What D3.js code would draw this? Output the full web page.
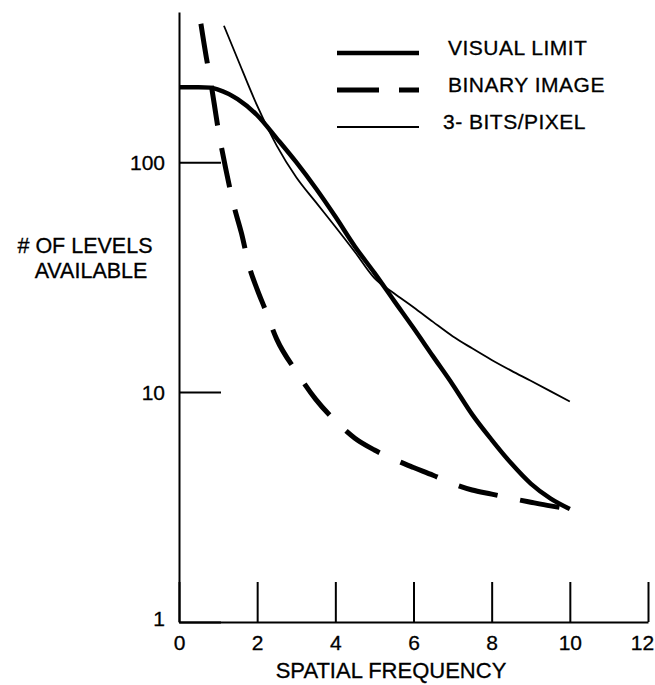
<!DOCTYPE html>
<html>
<head>
<meta charset="utf-8">
<script src="https://cdn.jsdelivr.net/npm/d3@7"></script>
<style>
  body { margin: 0; background: #fff; }
  text { font-family: "Liberation Sans", Arial, sans-serif; fill: #000; stroke: #000; stroke-width: 0.3px; }
</style>
</head>
<body>
<svg width="655" height="685"></svg>
<script>
// values (log y)
var xTicks = [0, 2, 4, 6, 8, 10, 12];
var yTicks = [1, 10, 100];

var visualX = [0, 0.5, 0.8, 1, 1.5, 2, 2.5, 3, 3.5, 4, 4.5, 5, 5.5, 6, 6.5, 7, 7.5, 8, 8.5, 9, 9.5, 10];
var visualY = [212, 212, 211, 207, 188, 160, 127, 100, 77, 58, 43, 33, 25, 19, 14.3, 10.8, 8.0, 6.2, 4.9, 4.0, 3.45, 3.1];

var binaryX = [0.56, 0.7, 0.8, 0.9, 1.0, 1.2, 1.4, 1.6, 1.8, 2.0, 2.2, 2.5, 3, 3.5, 4, 4.5, 5, 5.5, 6, 6.5, 7, 7.5, 8, 8.5, 9, 9.5, 10];
var binaryY = [400, 285, 230, 180, 140, 93, 65, 49, 35, 28, 23, 17, 12.3, 9.3, 7.5, 6.3, 5.6, 5.1, 4.7, 4.35, 4.0, 3.75, 3.6, 3.45, 3.32, 3.2, 3.1];

var bitsX = [1.15, 1.5, 2, 2.5, 3, 3.5, 4, 4.5, 5, 5.5, 6, 6.5, 7, 7.5, 8, 8.5, 9, 9.5, 10];
var bitsY = [392, 281, 176, 118, 86, 67, 52.4, 40.7, 31.3, 26.9, 23.4, 20.2, 17.5, 15.5, 13.8, 12.4, 11.2, 10.1, 9.1];

var legendNames = ["VISUAL LIMIT", "BINARY IMAGE", "3- BITS/PIXEL"];

var svg = d3.select("svg");

var x = d3.scaleLinear().domain([0, 12]).range([179, 648]);
var y = d3.scaleLog().domain([1, 450]).range([622, 12]);

// x axis, ticks pointing up
var xAxis = svg.append("g")
    .attr("transform", "translate(0," + y(1) + ")")
    .call(d3.axisBottom(x).tickValues(xTicks).tickSize(-40).tickSizeOuter(0).tickPadding(13));

// y axis, ticks pointing right
var yAxis = svg.append("g")
    .attr("transform", "translate(" + x(0) + ",0)")
    .call(d3.axisLeft(y).tickValues(yTicks).tickFormat(d3.format("d")).tickSize(-42).tickSizeOuter(0).tickPadding(14));

svg.selectAll(".domain, .tick line")
    .attr("stroke", "#000")
    .attr("stroke-width", 2);
svg.selectAll(".tick text")
    .style("font-size", "21px")
    .style("font-family", "'Liberation Sans', Arial, sans-serif");
yAxis.selectAll(".tick text").attr("dy", function(d) { return d == 1 ? "0.15em" : "0.36em"; });
// last label sits at the page edge
xAxis.selectAll(".tick text").attr("dx", function(d) { return d == 12 ? -6 : 0; });

// titles
svg.append("text")
    .attr("x", 391).attr("y", 678)
    .attr("text-anchor", "middle")
    .style("font-size", "22px")
    .text("SPATIAL FREQUENCY");

svg.append("text")
    .attr("x", 85).attr("y", 253)
    .attr("text-anchor", "middle")
    .style("font-size", "21.5px")
    .text("# OF LEVELS");
svg.append("text")
    .attr("x", 91).attr("y", 278)
    .attr("text-anchor", "middle")
    .style("font-size", "21.5px")
    .text("AVAILABLE");

var line = d3.line()
    .x(function(d) { return x(d[0]); })
    .y(function(d) { return y(d[1]); })
    .curve(d3.curveMonotoneX);

var series = [
    {name: legendNames[0], pts: d3.zip(visualX, visualY), width: 4.5, dash: null},
    {name: legendNames[1], pts: d3.zip(binaryX, binaryY), width: 5, dash: "40,23"},
    {name: legendNames[2], pts: d3.zip(bitsX, bitsY), width: 1.8, dash: null}
];

svg.selectAll(".curve")
    .data(series)
    .enter().append("path")
    .attr("class", "curve")
    .attr("d", function(d) { return line(d.pts); })
    .attr("fill", "none")
    .attr("stroke", "#000")
    .attr("stroke-width", function(d) { return d.width; })
    .attr("stroke-dasharray", function(d) { return d.dash; });

// legend
var legendG = svg.selectAll(".legend")
    .data(series)
    .enter().append("g")
    .attr("class", "legend")
    .attr("transform", function(d, i) { return "translate(337," + (53 + i * 37) + ")"; });

legendG.append("line")
    .attr("x1", 0).attr("x2", 82)
    .attr("stroke", "#000")
    .attr("stroke-width", function(d) { return d.width; })
    .attr("stroke-dasharray", function(d) { return d.dash ? "42,20" : null; });

legendG.append("text")
    .attr("x", function(d, i) { return i == 2 ? 106 : 111; })
    .attr("y", 2)
    .style("font-size", "21px")
    .style("letter-spacing", "0.5px")
    .text(function(d) { return d.name; });
</script>
</body>
</html>
